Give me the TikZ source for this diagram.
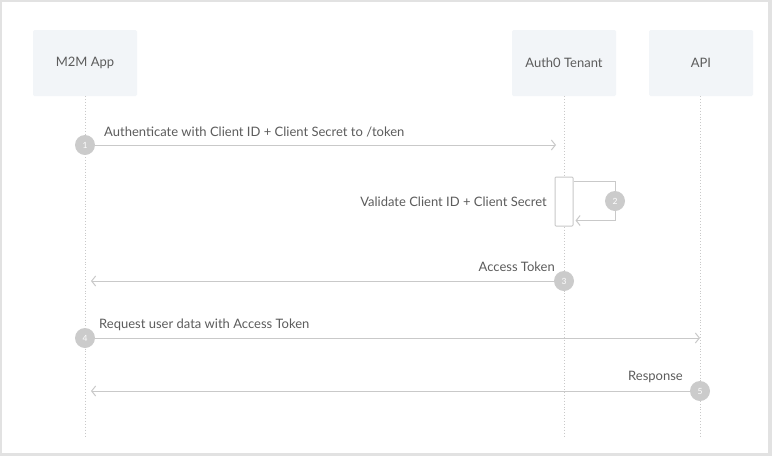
\documentclass[tikz,border=0pt]{standalone}
\usepackage{fontspec}
\setmainfont{Lato}
\usetikzlibrary{arrows.meta,positioning}

\definecolor{framegray}{HTML}{E2E2E2}
\definecolor{boxfill}{HTML}{F2F5F8}
\definecolor{linegray}{HTML}{C9C9C9}
\definecolor{stepgray}{HTML}{CBCBCB}
\definecolor{textgray}{HTML}{5C5C5C}

\tikzset{
  actor/.style={fill=boxfill, rounded corners=1.5pt, minimum width=104pt, minimum height=66pt,
                text=textgray, font=\fontsize{13}{15}\selectfont},
  lifeline/.style={draw=linegray, dotted, line width=0.9pt},
  msg/.style={draw=linegray, line width=1pt, ->},
  stepnum/.style={circle, fill=stepgray, minimum size=20pt, inner sep=0pt,
                  text=white, font=\fontsize{8.5}{9}\selectfont},
  msgtext/.style={text=textgray, font=\fontsize{13}{15}\selectfont, inner sep=0pt},
  activation/.style={draw=linegray, fill=white, line width=1pt, rounded corners=1pt,
                     minimum width=18pt, minimum height=49pt},
}

\begin{document}
\begin{tikzpicture}[x=1pt,y=-1pt,>={Straight Barb[length=4pt,width=10pt]}]
        \useasboundingbox (0,0) rectangle (772,456);
        \fill[framegray] (0,0) rectangle (772,456);
        \fill[white] (2,2) rectangle (768,453);

        \node[actor] (app) at (85,63) {M2M App};
        \node[actor] (tenant) at (564,63) {Auth0 Tenant};
        \node[actor] (api) at (701,63) {API};

        % lifelines
        \coordinate (append) at ([yshift=-340pt]app.south);
        \coordinate (tenantend) at ([yshift=-340pt]tenant.south);
        \coordinate (apiend) at ([yshift=-340pt]api.south);
        \draw[lifeline] (app.south) -- (append);
        \draw[lifeline] (tenant.south) -- (tenantend);
        \draw[lifeline] ([xshift=-1pt]api.south) -- ([xshift=-1pt]apiend);

        \node[activation] (check) at (564,201.5) {};

        \node[stepnum] (s1) at (app.south |- 0,145) {1};
        \node[stepnum] (s2) at (615,201) {2};
        \node[stepnum] (s3) at (tenant.south |- 0,281) {3};
        \node[stepnum] (s4) at (app.south |- 0,338) {4};
        \node[stepnum] (s5) at ([xshift=-1pt]api.south |- 0,391) {5};

        \coordinate (m1end) at ([xshift=-8pt]tenant.south |- s1);
        \coordinate (m3end) at ([xshift=6pt]app.south |- s3);
        \coordinate (m4end) at ([xshift=-1pt]api.south |- s4);
        \coordinate (m5end) at ([xshift=6pt]app.south |- s5);

        \draw[msg] (s1) -- (m1end); % token request
        \draw[msg] ([yshift=-4.5pt]check.north east) -| (s2) |- ([xshift=2pt,yshift=6pt]check.south east); % validation
        \draw[msg] (s3) -- (m3end); % token back
        \draw[msg] (s4) -- (m4end); % call api
        \draw[msg] (s5) -- (m5end); % api answer

        \node[msgtext, anchor=base west] (l1) at (104,136) {Authenticate with Client ID + Client Secret to /token};
        \node[msgtext, anchor=base east] (l2) at (547,206) {Validate Client ID + Client Secret};
        \node[msgtext, anchor=base east] (l3) at (555,271) {Access Token};
        \node[msgtext, anchor=base west] (l4) at (99,328) {Request user data with Access Token};
        \node[msgtext, anchor=base east] (l5) at (683,380) {Response};
\end{tikzpicture}
\end{document}
